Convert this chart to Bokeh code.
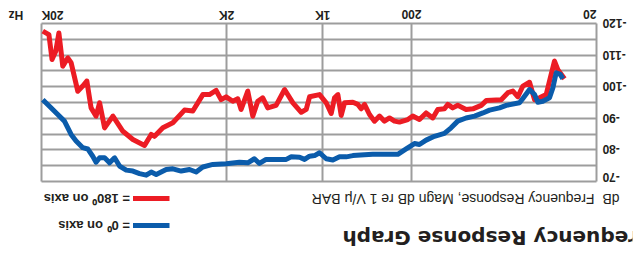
from bokeh.plotting import figure
from bokeh.models import Range1d, FixedTicker, Label, Legend, LegendItem, Grid, ColumnDataSource
from bokeh.core.properties import value
from bokeh.embed import file_html
from bokeh.resources import INLINE

# x = position on the graph's frequency grid (decades above 20 Hz, as drawn)
tick_pos = [0, 1, 1.48, 2, 3]
tick_labels = ["20", "200", "1K", "2K", "20K"]
db_ticks = [-120, -110, -100, -90, -80, -70]
db_grid = [-120, -115, -110, -105, -100, -95, -90, -85, -80, -75, -70]

red_x = [0.173, 0.209, 0.227, 0.245, 0.272, 0.308, 0.335, 0.362, 0.398, 0.425,
         0.452, 0.479, 0.515, 0.596, 0.623, 0.668, 0.705, 0.750, 0.777, 0.804,
         0.822, 0.858, 0.885, 0.921, 0.957, 0.993, 1.020, 1.065, 1.092, 1.119,
         1.146, 1.173, 1.200, 1.227, 1.254, 1.272, 1.290, 1.317, 1.362, 1.380,
         1.398, 1.416, 1.434, 1.461, 1.497, 1.551, 1.569, 1.596, 1.641, 1.686,
         1.732, 1.777, 1.804, 1.831, 1.858, 1.885, 1.921, 1.939, 1.966, 2.002,
         2.029, 2.056, 2.092, 2.128, 2.182, 2.227, 2.290, 2.344, 2.389, 2.407,
         2.443, 2.506, 2.560, 2.614, 2.659, 2.686, 2.705, 2.732, 2.755, 2.777,
         2.804, 2.840, 2.858, 2.885, 2.906, 2.923, 2.943, 2.960, 2.993]
red_db = [-102.5, -105.4, -108.1, -103.9, -97.5, -96.5, -95.9, -101.4, -100.2, -96.8,
          -98.6, -98.1, -95.9, -95.6, -94.1, -93.0, -92.8, -94.1, -93.3, -94.4,
          -93.0, -92.8, -90.1, -91.7, -89.6, -90.7, -89.6, -88.8, -89.1, -90.1,
          -89.1, -90.7, -89.1, -91.2, -94.4, -93.0, -94.4, -95.1, -94.9, -90.9,
          -97.5, -96.5, -91.5, -94.9, -97.5, -96.8, -92.8, -91.9, -94.9, -99.1,
          -94.1, -93.3, -96.5, -95.4, -90.7, -98.6, -92.8, -96.2, -95.4, -96.8,
          -95.9, -98.8, -97.5, -97.5, -92.3, -92.6, -88.6, -87.0, -84.3, -84.9,
          -81.4, -83.3, -85.9, -90.7, -87.0, -94.9, -90.7, -93.3, -101.8, -100.2,
          -98.6, -107.6, -109.1, -106.5, -117.0, -111.2, -108.6, -116.5, -117.6]

blue_x = [0.182, 0.196, 0.218, 0.236, 0.254, 0.290, 0.317, 0.335, 0.362, 0.395,
          0.416, 0.488, 0.524, 0.578, 0.614, 0.659, 0.705, 0.750, 0.786, 0.822,
          0.876, 0.921, 0.957, 0.984, 1.029, 1.074, 1.137, 1.209, 1.254, 1.317,
          1.353, 1.389, 1.425, 1.461, 1.497, 1.524, 1.551, 1.578, 1.605, 1.650,
          1.677, 1.732, 1.786, 1.822, 1.849, 1.885, 1.930, 2.002, 2.074, 2.128,
          2.164, 2.200, 2.245, 2.290, 2.326, 2.380, 2.407, 2.434, 2.470, 2.506,
          2.542, 2.578, 2.605, 2.632, 2.659, 2.686, 2.705, 2.723, 2.750, 2.777,
          2.813, 2.840, 2.876, 2.912, 2.957, 2.993]
blue_db = [-102.5, -103.9, -104.4, -99.6, -96.5, -95.4, -95.1, -97.5, -99.1, -96.5,
           -94.9, -94.1, -93.3, -92.6, -91.7, -90.7, -90.1, -89.1, -87.0, -85.2,
           -84.3, -83.1, -81.7, -82.0, -80.3, -78.6, -78.6, -78.6, -78.5, -78.2,
           -77.8, -77.8, -76.8, -77.2, -79.1, -78.2, -78.0, -77.0, -77.7, -77.8,
           -77.0, -77.0, -77.0, -75.7, -77.2, -75.9, -76.1, -75.6, -75.4, -74.6,
           -73.0, -73.8, -73.3, -74.0, -73.8, -72.2, -73.0, -72.0, -72.5, -73.3,
           -73.6, -74.9, -77.5, -75.9, -77.5, -77.5, -76.1, -78.0, -80.3, -80.7,
           -82.8, -84.9, -89.1, -91.2, -93.8, -95.9]

RED = "#EC1C24"
BLUE = "#0B5CAB"
GRID = "#9d9d9d"
INK = "#231f20"
FONT = "Liberation Sans"

# canvas layout (pixels) of the graph box inside the 625x253 canvas
W, H = 625, 253
BOX_L, BOX_R, BOX_T, BOX_B = 36, 591, 79, 237
XMIN, XMAX = tick_pos[0], tick_pos[-1]
YMIN, YMAX = db_ticks[0], db_ticks[-1]
xs = (XMAX - XMIN) / (BOX_R - BOX_L)
ys = (YMAX - YMIN) / (BOX_B - BOX_T)
x0 = XMIN - BOX_L * xs
y1 = YMAX + BOX_T * ys


def px(u):
    return x0 + u * xs


def py(v):
    return y1 - v * ys


p = figure(width=W, height=H, output_backend="svg", toolbar_location=None,
           x_axis_type=None, y_axis_type=None,
           x_range=Range1d(x0, x0 + W * xs), y_range=Range1d(y1 - H * ys, y1),
           min_border=0)
# the reference graph is printed upside down
p.styles = {"transform": "translate(8px, 8px) rotate(180deg)"}
p.background_fill_color = "white"
p.border_fill_color = "white"
p.outline_line_color = None

p.add_layout(Grid(dimension=0, ticker=FixedTicker(ticks=tick_pos),
                  bounds=(XMIN, XMAX), cross_bounds=(YMIN, YMAX),
                  grid_line_color=GRID, grid_line_width=2))
p.add_layout(Grid(dimension=1, ticker=FixedTicker(ticks=db_grid),
                  bounds=(YMIN, YMAX), cross_bounds=(XMIN, XMAX),
                  grid_line_color=GRID, grid_line_width=2))

# tick labels
xsrc = ColumnDataSource(dict(x=tick_pos, y=[py(246)] * len(tick_pos), t=tick_labels,
                             a=["left", "center", "center", "center", "right"]))
p.text(x="x", y="y", text="t", text_align="a", text_baseline="middle", source=xsrc,
       text_font=value(FONT), text_font_style="bold", text_font_size="12px", text_color=INK)
ysrc = ColumnDataSource(dict(x=[px(30)] * len(db_ticks), y=db_ticks,
                             t=[str(d) for d in db_ticks],
                             b=["alphabetic", "middle", "middle", "middle", "middle", "top"]))
p.text(x="x", y="y", text="t", text_align="right", text_baseline="b", source=ysrc,
       text_font=value(FONT), text_font_style="bold", text_font_size="12px", text_color=INK)

red_r = p.line(red_x, red_db, line_color=RED, line_width=5, line_join="round")
blue_r = p.line(blue_x, blue_db, line_color=BLUE, line_width=5, line_join="round")

legend = Legend(items=[LegendItem(label="= 0\u2070 on axis", renderers=[blue_r]),
                       LegendItem(label="= 180\u2070 on axis", renderers=[red_r])],
                location=(463, H - 72), orientation="vertical",
                glyph_width=37, glyph_height=20, label_height=20, spacing=7,
                padding=0, margin=0, label_standoff=3,
                border_line_color=None, background_fill_alpha=0,
                label_text_font=FONT, label_text_font_style="bold",
                label_text_font_size="13px", label_text_color=INK)
p.add_layout(legend, "center")

p.add_layout(Label(x=px(290), y=py(23), text="Frequency Response Graph",
                   text_align="right", text_baseline="alphabetic",
                   text_font="DejaVu Sans", text_font_style="bold",
                   text_font_size="20px", text_color=INK))
p.add_layout(Label(x=px(13), y=py(62), text="dB", text_align="left",
                   text_baseline="alphabetic", text_font=FONT,
                   text_font_size="14px", text_color=INK))
p.add_layout(Label(x=px(38), y=py(62), text="Frequency Response, Magn dB re 1 V/\u03bc BAR",
                   text_align="left", text_baseline="alphabetic",
                   text_font=FONT, text_font_size="14px", text_color=INK))
p.add_layout(Label(x=px(624), y=py(246), text="Hz", text_align="right",
                   text_baseline="middle", text_font=FONT,
                   text_font_style="bold", text_font_size="12px", text_color=INK))

open("out.html", "w").write(file_html(p, INLINE))
